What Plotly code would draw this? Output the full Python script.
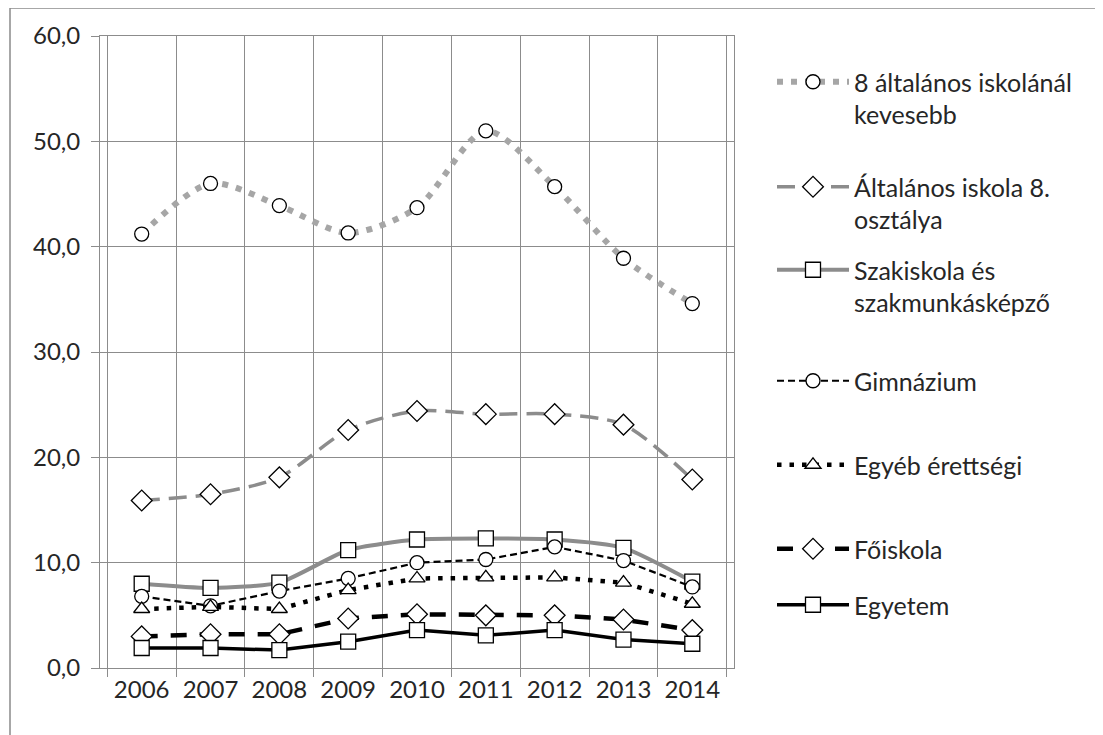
import plotly.graph_objects as go

years = ["2006", "2007", "2008", "2009", "2010", "2011", "2012", "2013", "2014"]

alt8_kevesebb = [41.2, 46.0, 43.9, 41.3, 43.7, 51.0, 45.7, 38.9, 34.6]
alt8_osztaly = [15.9, 16.5, 18.1, 22.6, 24.4, 24.1, 24.1, 23.1, 17.9]
szakiskola = [8.0, 7.6, 8.1, 11.2, 12.2, 12.3, 12.2, 11.4, 8.2]
gimnazium = [6.8, 5.9, 7.3, 8.5, 10.0, 10.3, 11.5, 10.2, 7.7]
egyeb_erettsegi = [5.6, 5.8, 5.6, 7.4, 8.5, 8.6, 8.6, 8.1, 6.1]
foiskola = [3.0, 3.2, 3.2, 4.7, 5.1, 5.0, 5.0, 4.6, 3.6]
egyetem = [1.9, 1.9, 1.7, 2.5, 3.6, 3.1, 3.6, 2.7, 2.3]

names = [
    "8 általános iskolánál<br>kevesebb",
    "Általános iskola 8.<br>osztálya",
    "Szakiskola és<br>szakmunkásképző",
    "Gimnázium",
    "Egyéb érettségi",
    "Főiskola",
    "Egyetem",
]

FONT = "Lato"
FSIZE = 24
LSIZE = 25
TXT = "#262626"
GRID = "#8c8c8c"

# page body has an 8px margin: figure pixel = screen pixel - OFF
OFF = 8
FW, FH = 1103 - OFF, 735 - OFF
# plot area in screen pixels
L, R, T, B = 100, 734, 36, 668
W, H = R - L, B - T


def px_x(p):
    return (p - L) / W


def px_y(p):
    return (B - p) / H


styles = [
    dict(data=alt8_kevesebb, line=dict(color="#a6a6a6", width=6, dash="6px,8px", shape="spline", smoothing=0.8),
         marker=dict(symbol="circle", size=14)),
    dict(data=alt8_osztaly, line=dict(color="#8c8c8c", width=3.5, dash="18px,9px", shape="spline", smoothing=0.8),
         marker=dict(symbol="diamond", size=16)),
    dict(data=szakiskola, line=dict(color="#8c8c8c", width=4, shape="spline", smoothing=0.6),
         marker=dict(symbol="square", size=15)),
    dict(data=gimnazium, line=dict(color="#000000", width=2.2, dash="7px,4px"),
         marker=dict(symbol="circle", size=14)),
    dict(data=egyeb_erettsegi, line=dict(color="#000000", width=4.5, dash="4.5px,8px"),
         marker=dict(symbol="triangle-up", size=14)),
    dict(data=foiskola, line=dict(color="#000000", width=4.5, dash="16px,13px"),
         marker=dict(symbol="diamond", size=16)),
    dict(data=egyetem, line=dict(color="#000000", width=3.5),
         marker=dict(symbol="square", size=15)),
]

legend_ids = ["legend", "legend2", "legend3", "legend4", "legend5", "legend6", "legend7"]
legend_pos = [
    (px_y(59), "top"),
    (px_y(164), "top"),
    (px_y(247), "top"),
    (px_y(381), "middle"),
    (px_y(465), "middle"),
    (px_y(549), "middle"),
    (px_y(605), "middle"),
]

fig = go.Figure()
for i, (nm, st) in enumerate(zip(names, styles)):
    mk = dict(st["marker"])
    mk.update(color="white", line=dict(color="black", width=1.3))
    fig.add_trace(go.Scatter(
        x=years, y=st["data"], name=nm, mode="lines+markers",
        line=st["line"], marker=mk, legend=legend_ids[i],
    ))

layout_legends = {}
for lid, (yy, ya) in zip(legend_ids, legend_pos):
    layout_legends[lid] = dict(
        x=px_x(772), xanchor="left", y=yy, yanchor=ya,
        font=dict(family=FONT, size=LSIZE, color=TXT),
        bgcolor="rgba(0,0,0,0)", itemwidth=72, valign="top",
        tracegroupgap=0,
    )

fig.update_layout(
    width=FW, height=FH,
    margin=dict(l=L - OFF, r=FW - (R - OFF), t=T - OFF, b=FH - (B - OFF), autoexpand=False),
    paper_bgcolor="white", plot_bgcolor="white",
    separators=", ",
    font=dict(family=FONT, size=FSIZE, color=TXT),
    showlegend=True,
    **layout_legends,
)

fig.update_xaxes(
    type="category", tickson="boundaries", automargin=False,
    showgrid=True, gridcolor=GRID, gridwidth=1,
    showline=True, linecolor=GRID, linewidth=1, mirror=True,
    ticks="outside", ticklen=8, tickcolor=GRID, tickwidth=1,
    tickfont=dict(family=FONT, size=FSIZE, color=TXT),
    zeroline=False,
)
fig.update_yaxes(
    range=[0, 60], dtick=10, tickformat=".1f", automargin=False,
    showgrid=True, gridcolor=GRID, gridwidth=1,
    showline=True, linecolor=GRID, linewidth=1, mirror=True,
    ticks="outside", ticklen=8, tickcolor=GRID, tickwidth=1,
    ticklabelstandoff=6,
    tickfont=dict(family=FONT, size=FSIZE, color=TXT),
    zeroline=False,
)

# outer chart border (top and left edges visible)
fig.add_shape(type="line", xref="paper", yref="paper",
              x0=px_x(10), y0=px_y(735), x1=px_x(10), y1=px_y(8),
              line=dict(color="#8a8a8a", width=1.5))
fig.add_shape(type="line", xref="paper", yref="paper",
              x0=px_x(10), y0=px_y(8), x1=px_x(1103), y1=px_y(8),
              line=dict(color="#8a8a8a", width=1.5))

fig.write_html("out.html")
